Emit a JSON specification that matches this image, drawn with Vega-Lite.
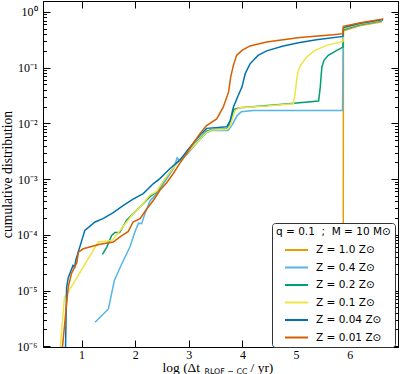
{
  "$schema": "https://vega.github.io/schema/vega-lite/v6.json",
  "width": 355,
  "height": 346,
  "autosize": "none",
  "padding": {"left": 43, "top": 1, "right": 2, "bottom": 27},
  "background": "white",
  "config": {
    "view": {"stroke": null},
    "axis": {"grid": false, "domainColor": "black", "tickColor": "black", "labelColor": "black", "titleColor": "black", "domainWidth": 1, "tickWidth": 1, "labelFont": "Liberation Serif", "titleFont": "Liberation Serif", "titleFontWeight": "normal", "zindex": 1}
  },
  "data": {"values": [
    {"Z": "Z = 1.0 Z⊙", "x": 5.877, "y": 9e-7},
    {"Z": "Z = 1.0 Z⊙", "x": 5.882, "y": 0.457},
    {"Z": "Z = 1.0 Z⊙", "x": 6.2, "y": 0.569},
    {"Z": "Z = 1.0 Z⊙", "x": 6.6, "y": 0.668},

    {"Z": "Z = 0.4 Z⊙", "x": 1.25, "y": 2.69e-6},
    {"Z": "Z = 0.4 Z⊙", "x": 1.50, "y": 4.68e-6},
    {"Z": "Z = 0.4 Z⊙", "x": 1.61, "y": 1.51e-5},
    {"Z": "Z = 0.4 Z⊙", "x": 1.75, "y": 3.02e-5},
    {"Z": "Z = 0.4 Z⊙", "x": 1.90, "y": 6.03e-5},
    {"Z": "Z = 0.4 Z⊙", "x": 1.99, "y": 1.10e-4},
    {"Z": "Z = 0.4 Z⊙", "x": 2.06, "y": 1.62e-4},
    {"Z": "Z = 0.4 Z⊙", "x": 2.12, "y": 1.58e-4},
    {"Z": "Z = 0.4 Z⊙", "x": 2.18, "y": 2.40e-4},
    {"Z": "Z = 0.4 Z⊙", "x": 2.27, "y": 3.98e-4},
    {"Z": "Z = 0.4 Z⊙", "x": 2.40, "y": 5.50e-4},
    {"Z": "Z = 0.4 Z⊙", "x": 2.55, "y": 8.91e-4},
    {"Z": "Z = 0.4 Z⊙", "x": 2.72, "y": 1.58e-3},
    {"Z": "Z = 0.4 Z⊙", "x": 2.78, "y": 2.40e-3},
    {"Z": "Z = 0.4 Z⊙", "x": 2.82, "y": 2.19e-3},
    {"Z": "Z = 0.4 Z⊙", "x": 2.96, "y": 2.75e-3},
    {"Z": "Z = 0.4 Z⊙", "x": 3.15, "y": 4.47e-3},
    {"Z": "Z = 0.4 Z⊙", "x": 3.33, "y": 6.76e-3},
    {"Z": "Z = 0.4 Z⊙", "x": 3.43, "y": 7.41e-3},
    {"Z": "Z = 0.4 Z⊙", "x": 3.73, "y": 7.41e-3},
    {"Z": "Z = 0.4 Z⊙", "x": 3.80, "y": 9.12e-3},
    {"Z": "Z = 0.4 Z⊙", "x": 3.90, "y": 1.38e-2},
    {"Z": "Z = 0.4 Z⊙", "x": 3.98, "y": 1.62e-2},
    {"Z": "Z = 0.4 Z⊙", "x": 4.20, "y": 1.70e-2},
    {"Z": "Z = 0.4 Z⊙", "x": 5.865, "y": 1.70e-2},
    {"Z": "Z = 0.4 Z⊙", "x": 5.88, "y": 0.479},
    {"Z": "Z = 0.4 Z⊙", "x": 6.2, "y": 0.589},
    {"Z": "Z = 0.4 Z⊙", "x": 6.6, "y": 0.692},

    {"Z": "Z = 0.2 Z⊙", "x": 1.39, "y": 4.47e-5},
    {"Z": "Z = 0.2 Z⊙", "x": 1.47, "y": 6.03e-5},
    {"Z": "Z = 0.2 Z⊙", "x": 1.56, "y": 9.77e-5},
    {"Z": "Z = 0.2 Z⊙", "x": 1.62, "y": 1.10e-4},
    {"Z": "Z = 0.2 Z⊙", "x": 1.71, "y": 1.10e-4},
    {"Z": "Z = 0.2 Z⊙", "x": 1.84, "y": 1.82e-4},
    {"Z": "Z = 0.2 Z⊙", "x": 1.96, "y": 2.40e-4},
    {"Z": "Z = 0.2 Z⊙", "x": 2.12, "y": 3.39e-4},
    {"Z": "Z = 0.2 Z⊙", "x": 2.27, "y": 4.79e-4},
    {"Z": "Z = 0.2 Z⊙", "x": 2.40, "y": 5.89e-4},
    {"Z": "Z = 0.2 Z⊙", "x": 2.52, "y": 8.91e-4},
    {"Z": "Z = 0.2 Z⊙", "x": 2.77, "y": 1.91e-3},
    {"Z": "Z = 0.2 Z⊙", "x": 2.96, "y": 2.88e-3},
    {"Z": "Z = 0.2 Z⊙", "x": 3.15, "y": 4.68e-3},
    {"Z": "Z = 0.2 Z⊙", "x": 3.33, "y": 7.24e-3},
    {"Z": "Z = 0.2 Z⊙", "x": 3.43, "y": 7.76e-3},
    {"Z": "Z = 0.2 Z⊙", "x": 3.71, "y": 7.94e-3},
    {"Z": "Z = 0.2 Z⊙", "x": 3.77, "y": 1.00e-2},
    {"Z": "Z = 0.2 Z⊙", "x": 3.84, "y": 1.78e-2},
    {"Z": "Z = 0.2 Z⊙", "x": 3.95, "y": 1.91e-2},
    {"Z": "Z = 0.2 Z⊙", "x": 4.70, "y": 2.19e-2},
    {"Z": "Z = 0.2 Z⊙", "x": 5.42, "y": 2.51e-2},
    {"Z": "Z = 0.2 Z⊙", "x": 5.45, "y": 4.47e-2},
    {"Z": "Z = 0.2 Z⊙", "x": 5.48, "y": 0.102},
    {"Z": "Z = 0.2 Z⊙", "x": 5.52, "y": 0.135},
    {"Z": "Z = 0.2 Z⊙", "x": 5.60, "y": 0.166},
    {"Z": "Z = 0.2 Z⊙", "x": 5.76, "y": 0.204},
    {"Z": "Z = 0.2 Z⊙", "x": 5.875, "y": 0.234},
    {"Z": "Z = 0.2 Z⊙", "x": 5.882, "y": 0.490},
    {"Z": "Z = 0.2 Z⊙", "x": 6.2, "y": 0.603},
    {"Z": "Z = 0.2 Z⊙", "x": 6.62, "y": 0.708},

    {"Z": "Z = 0.1 Z⊙", "x": 0.60, "y": 9e-7},
    {"Z": "Z = 0.1 Z⊙", "x": 0.68, "y": 7.59e-6},
    {"Z": "Z = 0.1 Z⊙", "x": 0.73, "y": 8.71e-6},
    {"Z": "Z = 0.1 Z⊙", "x": 1.31, "y": 7.41e-5},
    {"Z": "Z = 0.1 Z⊙", "x": 1.57, "y": 7.94e-5},
    {"Z": "Z = 0.1 Z⊙", "x": 1.71, "y": 1.17e-4},
    {"Z": "Z = 0.1 Z⊙", "x": 1.84, "y": 1.70e-4},
    {"Z": "Z = 0.1 Z⊙", "x": 1.96, "y": 2.40e-4},
    {"Z": "Z = 0.1 Z⊙", "x": 2.12, "y": 3.39e-4},
    {"Z": "Z = 0.1 Z⊙", "x": 2.27, "y": 5.13e-4},
    {"Z": "Z = 0.1 Z⊙", "x": 2.40, "y": 6.03e-4},
    {"Z": "Z = 0.1 Z⊙", "x": 2.52, "y": 9.12e-4},
    {"Z": "Z = 0.1 Z⊙", "x": 2.77, "y": 1.91e-3},
    {"Z": "Z = 0.1 Z⊙", "x": 2.96, "y": 2.88e-3},
    {"Z": "Z = 0.1 Z⊙", "x": 3.15, "y": 4.57e-3},
    {"Z": "Z = 0.1 Z⊙", "x": 3.33, "y": 6.92e-3},
    {"Z": "Z = 0.1 Z⊙", "x": 3.43, "y": 7.59e-3},
    {"Z": "Z = 0.1 Z⊙", "x": 3.71, "y": 7.76e-3},
    {"Z": "Z = 0.1 Z⊙", "x": 3.77, "y": 9.12e-3},
    {"Z": "Z = 0.1 Z⊙", "x": 3.86, "y": 1.70e-2},
    {"Z": "Z = 0.1 Z⊙", "x": 3.95, "y": 1.91e-2},
    {"Z": "Z = 0.1 Z⊙", "x": 4.45, "y": 2.04e-2},
    {"Z": "Z = 0.1 Z⊙", "x": 4.95, "y": 2.24e-2},
    {"Z": "Z = 0.1 Z⊙", "x": 4.98, "y": 3.39e-2},
    {"Z": "Z = 0.1 Z⊙", "x": 5.01, "y": 5.89e-2},
    {"Z": "Z = 0.1 Z⊙", "x": 5.04, "y": 8.91e-2},
    {"Z": "Z = 0.1 Z⊙", "x": 5.10, "y": 0.117},
    {"Z": "Z = 0.1 Z⊙", "x": 5.20, "y": 0.155},
    {"Z": "Z = 0.1 Z⊙", "x": 5.35, "y": 0.204},
    {"Z": "Z = 0.1 Z⊙", "x": 5.57, "y": 0.251},
    {"Z": "Z = 0.1 Z⊙", "x": 5.875, "y": 0.295},
    {"Z": "Z = 0.1 Z⊙", "x": 5.882, "y": 0.501},
    {"Z": "Z = 0.1 Z⊙", "x": 6.2, "y": 0.610},
    {"Z": "Z = 0.1 Z⊙", "x": 6.61, "y": 0.716},

    {"Z": "Z = 0.04 Z⊙", "x": 0.70, "y": 9e-7},
    {"Z": "Z = 0.04 Z⊙", "x": 0.72, "y": 1.12e-5},
    {"Z": "Z = 0.04 Z⊙", "x": 0.75, "y": 1.70e-5},
    {"Z": "Z = 0.04 Z⊙", "x": 0.84, "y": 2.82e-5},
    {"Z": "Z = 0.04 Z⊙", "x": 0.87, "y": 2.63e-5},
    {"Z": "Z = 0.04 Z⊙", "x": 0.89, "y": 3.47e-5},
    {"Z": "Z = 0.04 Z⊙", "x": 1.06, "y": 1.20e-4},
    {"Z": "Z = 0.04 Z⊙", "x": 1.25, "y": 1.70e-4},
    {"Z": "Z = 0.04 Z⊙", "x": 1.40, "y": 1.95e-4},
    {"Z": "Z = 0.04 Z⊙", "x": 1.59, "y": 2.51e-4},
    {"Z": "Z = 0.04 Z⊙", "x": 1.78, "y": 3.39e-4},
    {"Z": "Z = 0.04 Z⊙", "x": 1.96, "y": 4.37e-4},
    {"Z": "Z = 0.04 Z⊙", "x": 2.15, "y": 5.50e-4},
    {"Z": "Z = 0.04 Z⊙", "x": 2.34, "y": 8.32e-4},
    {"Z": "Z = 0.04 Z⊙", "x": 2.46, "y": 1.02e-3},
    {"Z": "Z = 0.04 Z⊙", "x": 2.65, "y": 1.55e-3},
    {"Z": "Z = 0.04 Z⊙", "x": 2.83, "y": 2.19e-3},
    {"Z": "Z = 0.04 Z⊙", "x": 3.02, "y": 3.72e-3},
    {"Z": "Z = 0.04 Z⊙", "x": 3.21, "y": 6.17e-3},
    {"Z": "Z = 0.04 Z⊙", "x": 3.33, "y": 8.13e-3},
    {"Z": "Z = 0.04 Z⊙", "x": 3.71, "y": 8.71e-3},
    {"Z": "Z = 0.04 Z⊙", "x": 3.77, "y": 1.12e-2},
    {"Z": "Z = 0.04 Z⊙", "x": 3.83, "y": 1.95e-2},
    {"Z": "Z = 0.04 Z⊙", "x": 3.92, "y": 3.16e-2},
    {"Z": "Z = 0.04 Z⊙", "x": 3.99, "y": 4.47e-2},
    {"Z": "Z = 0.04 Z⊙", "x": 4.05, "y": 7.76e-2},
    {"Z": "Z = 0.04 Z⊙", "x": 4.14, "y": 0.117},
    {"Z": "Z = 0.04 Z⊙", "x": 4.29, "y": 0.166},
    {"Z": "Z = 0.04 Z⊙", "x": 4.45, "y": 0.200},
    {"Z": "Z = 0.04 Z⊙", "x": 4.76, "y": 0.245},
    {"Z": "Z = 0.04 Z⊙", "x": 5.07, "y": 0.282},
    {"Z": "Z = 0.04 Z⊙", "x": 5.38, "y": 0.316},
    {"Z": "Z = 0.04 Z⊙", "x": 5.875, "y": 0.363},
    {"Z": "Z = 0.04 Z⊙", "x": 5.882, "y": 0.525},
    {"Z": "Z = 0.04 Z⊙", "x": 6.2, "y": 0.624},
    {"Z": "Z = 0.04 Z⊙", "x": 6.62, "y": 0.733},

    {"Z": "Z = 0.01 Z⊙", "x": 0.64, "y": 9e-7},
    {"Z": "Z = 0.01 Z⊙", "x": 0.75, "y": 1.15e-5},
    {"Z": "Z = 0.01 Z⊙", "x": 0.81, "y": 2.00e-5},
    {"Z": "Z = 0.01 Z⊙", "x": 0.91, "y": 3.16e-5},
    {"Z": "Z = 0.01 Z⊙", "x": 0.94, "y": 4.90e-5},
    {"Z": "Z = 0.01 Z⊙", "x": 1.03, "y": 5.62e-5},
    {"Z": "Z = 0.01 Z⊙", "x": 1.34, "y": 6.76e-5},
    {"Z": "Z = 0.01 Z⊙", "x": 1.59, "y": 7.41e-5},
    {"Z": "Z = 0.01 Z⊙", "x": 1.71, "y": 9.12e-5},
    {"Z": "Z = 0.01 Z⊙", "x": 1.87, "y": 1.15e-4},
    {"Z": "Z = 0.01 Z⊙", "x": 1.96, "y": 1.70e-4},
    {"Z": "Z = 0.01 Z⊙", "x": 2.09, "y": 1.95e-4},
    {"Z": "Z = 0.01 Z⊙", "x": 2.21, "y": 2.88e-4},
    {"Z": "Z = 0.01 Z⊙", "x": 2.34, "y": 4.17e-4},
    {"Z": "Z = 0.01 Z⊙", "x": 2.46, "y": 6.31e-4},
    {"Z": "Z = 0.01 Z⊙", "x": 2.59, "y": 8.71e-4},
    {"Z": "Z = 0.01 Z⊙", "x": 2.71, "y": 1.26e-3},
    {"Z": "Z = 0.01 Z⊙", "x": 2.83, "y": 1.91e-3},
    {"Z": "Z = 0.01 Z⊙", "x": 2.96, "y": 2.88e-3},
    {"Z": "Z = 0.01 Z⊙", "x": 3.08, "y": 4.37e-3},
    {"Z": "Z = 0.01 Z⊙", "x": 3.21, "y": 6.61e-3},
    {"Z": "Z = 0.01 Z⊙", "x": 3.33, "y": 9.12e-3},
    {"Z": "Z = 0.01 Z⊙", "x": 3.52, "y": 1.20e-2},
    {"Z": "Z = 0.01 Z⊙", "x": 3.64, "y": 1.95e-2},
    {"Z": "Z = 0.01 Z⊙", "x": 3.74, "y": 3.63e-2},
    {"Z": "Z = 0.01 Z⊙", "x": 3.78, "y": 6.76e-2},
    {"Z": "Z = 0.01 Z⊙", "x": 3.83, "y": 0.110},
    {"Z": "Z = 0.01 Z⊙", "x": 3.89, "y": 0.166},
    {"Z": "Z = 0.01 Z⊙", "x": 3.99, "y": 0.204},
    {"Z": "Z = 0.01 Z⊙", "x": 4.14, "y": 0.245},
    {"Z": "Z = 0.01 Z⊙", "x": 4.45, "y": 0.288},
    {"Z": "Z = 0.01 Z⊙", "x": 5.07, "y": 0.347},
    {"Z": "Z = 0.01 Z⊙", "x": 5.69, "y": 0.389},
    {"Z": "Z = 0.01 Z⊙", "x": 5.875, "y": 0.407},
    {"Z": "Z = 0.01 Z⊙", "x": 5.882, "y": 0.550},
    {"Z": "Z = 0.01 Z⊙", "x": 6.2, "y": 0.638},
    {"Z": "Z = 0.01 Z⊙", "x": 6.63, "y": 0.750}
  ]},
  "resolve": {"axis": {"x": "independent", "y": "independent"}},
  "layer": [
    {
      "mark": {"type": "line", "strokeWidth": 1.5, "clip": true},
      "encoding": {
        "x": {"field": "x", "type": "quantitative",
          "scale": {"domain": [0.28, 6.9], "nice": false, "zero": false},
          "axis": {"orient": "bottom", "values": [1, 2, 3, 4, 5, 6], "format": "d", "tickSize": -7, "labelPadding": 9.5, "labelFontSize": 12, "labelFlush": false,
            "title": "log (Δt", "titleFontSize": 13.5, "titleX": 119, "titleY": 24, "titleAlign": "left", "titleBaseline": "alphabetic", "titleAnchor": null}},
        "y": {"field": "y", "type": "quantitative",
          "scale": {"type": "log", "domain": [9.7e-7, 1.57], "nice": false},
          "axis": {"orient": "left", "values": [1e-6, 1e-5, 1e-4, 1e-3, 1e-2, 1e-1, 1], "tickSize": -7, "labelPadding": 13, "labelFontSize": 12, "labelFlush": false, "labelBaseline": "middle",
            "labelExpr": "'10' + ['⁻⁶','⁻⁵','⁻⁴','⁻³','⁻²','⁻¹','⁰'][round(log(datum.value)/LN10)+6]",
            "title": "cumulative distribution", "titleFontSize": 13.7, "titleAngle": 270, "titleX": -36, "titleY": 173, "titleAlign": "center", "titleBaseline": "middle", "titleAnchor": null}},
        "color": {"field": "Z", "type": "nominal",
          "scale": {"domain": ["Z = 1.0 Z⊙", "Z = 0.4 Z⊙", "Z = 0.2 Z⊙", "Z = 0.1 Z⊙", "Z = 0.04 Z⊙", "Z = 0.01 Z⊙"],
                    "range": ["#E69F00", "#56B4E9", "#009E73", "#F0E442", "#0072B2", "#D55E00"]},
          "legend": {"orient": "none", "legendX": 229, "legendY": 222, "title": "q = 0.1\u00a0\u00a0;\u00a0\u00a0M = 10 M⊙",
            "titleFont": "DejaVu Sans", "titleFontSize": 10.5, "titleFontWeight": "normal", "titleColor": "black", "titlePadding": 6.5,
            "labelFont": "DejaVu Sans", "labelFontSize": 10.5, "labelColor": "black",
            "symbolType": "M-2.3,0H2.3", "symbolStrokeWidth": 2, "symbolSize": 100, "symbolOffset": 14.5, "labelOffset": 13.5, "rowPadding": 5.5,
            "padding": 4, "strokeColor": "#333333", "fillColor": "white", "cornerRadius": 3}}
      }
    },
    {
      "mark": {"type": "point", "opacity": 0},
      "encoding": {
        "x": {"field": "x", "type": "quantitative", "scale": {"domain": [0.28, 6.9], "nice": false, "zero": false},
          "axis": {"orient": "top", "values": [1, 2, 3, 4, 5, 6], "tickSize": -7, "labels": false, "title": null}},
        "y": {"field": "y", "type": "quantitative", "scale": {"type": "log", "domain": [9.7e-7, 1.57], "nice": false},
          "axis": {"orient": "right", "values": [1e-6, 1e-5, 1e-4, 1e-3, 1e-2, 1e-1, 1], "tickSize": -7, "labels": false, "title": null}}
      }
    },
    {
      "mark": {"type": "point", "opacity": 0},
      "encoding": {
        "x": {"field": "x", "type": "quantitative", "scale": {"domain": [0.28, 6.9], "nice": false, "zero": false},
          "axis": {"orient": "bottom", "domain": false, "ticks": false, "labels": false,
            "title": "RLOF − CC", "titleFont": "DejaVu Sans", "titleFontSize": 7.9, "titleX": 161, "titleY": 26, "titleAlign": "left", "titleBaseline": "alphabetic", "titleAnchor": null}},
        "y": {"field": "y", "type": "quantitative", "scale": {"type": "log", "domain": [9.7e-7, 1.57], "nice": false},
          "axis": {"orient": "left", "values": [2e-6,3e-6,4e-6,5e-6,6e-6,7e-6,8e-6,9e-6,2e-5,3e-5,4e-5,5e-5,6e-5,7e-5,8e-5,9e-5,2e-4,3e-4,4e-4,5e-4,6e-4,7e-4,8e-4,9e-4,2e-3,3e-3,4e-3,5e-3,6e-3,7e-3,8e-3,9e-3,0.02,0.03,0.04,0.05,0.06,0.07,0.08,0.09,0.2,0.3,0.4,0.5,0.6,0.7,0.8,0.9],
            "tickSize": -3.5, "labels": false, "title": null}}
      }
    },
    {
      "mark": {"type": "point", "opacity": 0},
      "encoding": {
        "x": {"field": "x", "type": "quantitative", "scale": {"domain": [0.28, 6.9], "nice": false, "zero": false},
          "axis": {"orient": "bottom", "domain": false, "ticks": false, "labels": false,
            "title": "/ yr)", "titleFontSize": 13.5, "titleX": 207, "titleY": 24, "titleAlign": "left", "titleBaseline": "alphabetic", "titleAnchor": null}},
        "y": {"field": "y", "type": "quantitative", "scale": {"type": "log", "domain": [9.7e-7, 1.57], "nice": false},
          "axis": {"orient": "right", "values": [2e-6,3e-6,4e-6,5e-6,6e-6,7e-6,8e-6,9e-6,2e-5,3e-5,4e-5,5e-5,6e-5,7e-5,8e-5,9e-5,2e-4,3e-4,4e-4,5e-4,6e-4,7e-4,8e-4,9e-4,2e-3,3e-3,4e-3,5e-3,6e-3,7e-3,8e-3,9e-3,0.02,0.03,0.04,0.05,0.06,0.07,0.08,0.09,0.2,0.3,0.4,0.5,0.6,0.7,0.8,0.9],
            "tickSize": -3.5, "labels": false, "title": null}}
      }
    }
  ]
}
